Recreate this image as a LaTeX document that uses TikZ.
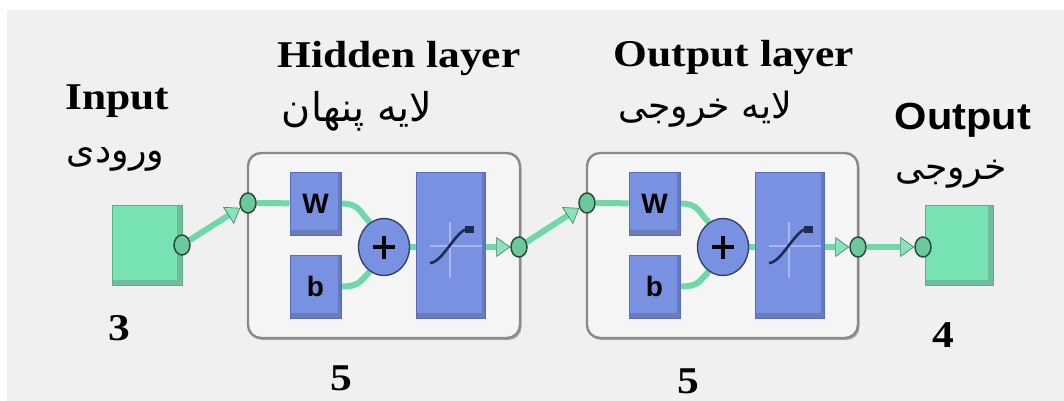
\documentclass[tikz,border=0pt]{standalone}
\usepackage{fontspec}
\usepackage{graphicx}
\usetikzlibrary{arrows.meta,shapes.geometric,shadows}
\TeXXeTstate=1
\newfontfamily\arabicfont[Script=Arabic]{DejaVu Sans}
\newfontfamily\serifb{Liberation Serif}
\newfontfamily\sansb{Liberation Sans}
\definecolor{bgc}{HTML}{F0F0F0}
\definecolor{layerfill}{HTML}{F5F5F5}
\definecolor{layerdraw}{HTML}{8A8A8A}
\definecolor{bluefill}{HTML}{7891E0}
\definecolor{bluedark}{HTML}{5A6DB6}
\definecolor{greenfill}{HTML}{78E3B2}
\definecolor{greendark}{HTML}{58B287}
\definecolor{conn}{HTML}{6FD8A6}
\definecolor{tipline}{HTML}{3E7D5E}
\definecolor{tipfill}{HTML}{8AE3B8}
\definecolor{dotfill}{HTML}{6CC99B}
\definecolor{dotdraw}{HTML}{2C4A3A}
\definecolor{sigline}{HTML}{1E2B55}
\definecolor{gridline}{HTML}{A8B8EE}
\pgfdeclarelayer{bglayer}
\pgfdeclarelayer{wirelayer}
\pgfsetlayers{bglayer,wirelayer,main}
\tikzset{
  lbl/.style={font=\fontsize{37.8}{40}\selectfont, inner sep=0pt, anchor=base},
  fa/.style={inner sep=0pt, anchor=center, font=\fontsize{30}{34}\selectfont},
  layerbox/.style={draw=layerdraw, line width=2.4pt, fill=layerfill, rounded corners=13pt,
    inner sep=0pt, drop shadow={shadow xshift=1.5pt, shadow yshift=-2pt, fill=black!40, opacity=0.8}},
  bluebox/.style={draw=bluedark, line width=1pt, fill=bluefill, inner sep=0pt,
    font=\sansb\bfseries\fontsize{28}{28}\selectfont,
    path picture={\fill[bluedark!90] (path picture bounding box.south west) rectangle ([yshift=5pt]path picture bounding box.south east);
                  \fill[bluedark!70!bluefill] ([xshift=-3pt,yshift=5pt]path picture bounding box.south east) rectangle (path picture bounding box.north east);}},
  sumnode/.style={ellipse, draw=bluedark!60!black, line width=1.4pt, fill=bluefill, inner sep=0pt,
    minimum width=51pt, minimum height=57pt},
  greenbox/.style={draw=greendark, line width=1pt, fill=greenfill, minimum width=70pt, minimum height=80pt, inner sep=0pt,
    path picture={\fill[greendark!85] (path picture bounding box.south west) rectangle ([yshift=5pt]path picture bounding box.south east);
                  \fill[greendark!85] ([xshift=-5pt]path picture bounding box.south east) rectangle (path picture bounding box.north east);}},
  dot/.style={ellipse, draw=dotdraw, line width=1.5pt, fill=dotfill, minimum width=16pt, minimum height=20pt, inner sep=0pt},
  wire/.style={draw=conn, line width=6pt},
  arr/.style={-{Triangle[length=14pt,width=20pt,fill=tipfill,color=tipline,line width=0.6pt]}}
}
\begin{document}
\begin{tikzpicture}[x=1pt,y=-1pt]
\useasboundingbox (0,0) rectangle (1064,401);
\begin{pgfonlayer}{bglayer}
  \fill[white] (0,0) rectangle (1064,401);
  \fill[bgc] (7,10) rectangle (1064,401);
  \node[layerbox, minimum width=272pt, minimum height=185pt] (LH) at (384,245.5) {};
  \node[layerbox, minimum width=271pt, minimum height=185pt] (LO) at (722.5,245.5) {};
\end{pgfonlayer}

% input / output blocks
\node[greenbox] (inbox) at (147,245) {};
\node[greenbox, minimum width=68pt] (outbox) at (959,245) {};
\node[dot] (indot) at (182,245) {};
\node[dot] (findot) at (923,247) {};

\foreach \dx/\n in {0/h,339/o}{
  \node[bluebox, minimum width=51pt, minimum height=63pt] (W\n) at (315.5+\dx,203.5) {W};
  \node[bluebox, minimum width=51pt, minimum height=63pt] (b\n) at (315.5+\dx,286.5) {b};
  \node[sumnode] (sum\n) at (384+\dx,247) {};
  \node[bluebox, minimum width=69pt, minimum height=146pt] (tf\n) at (450.5+\dx,245) {};
  \node[dot] (entry\n) at (248+\dx,203) {};
  \node[dot] (out\n) at (519+\dx,247) {};
  % plus sign
  \draw[line width=3.8pt, black] ([xshift=-11pt]sum\n.center) -- ([xshift=11pt]sum\n.center);
  \draw[line width=3.8pt, black] ([yshift=-11.5pt]sum\n.center) -- ([yshift=11.5pt]sum\n.center);
  % transfer function glyph
  \begin{scope}[shift={(tf\n.center)}]
    \draw[gridline, line width=1.5pt] (-20.5,1) -- (31.5,1);
    \draw[gridline, line width=1.5pt] (-0.5,-23) -- (-0.5,33);
    \draw[sigline, line width=2.6pt] (-20.5,18) .. controls (-8,18) and (6,-16) .. (17.5,-16);
    \fill[sigline] (14.5,-19.5) rectangle (23,-12.5);
  \end{scope}
  \begin{pgfonlayer}{wirelayer}
    \draw[wire] (entry\n) -- (W\n);
    \draw[wire] (W\n.east) .. controls +(18,0) and +(-10,-10) .. (sum\n.120);
    \draw[wire] (b\n.east) .. controls +(18,0) and +(-10,10) .. (sum\n.240);
    \draw[wire] (sum\n.east) -- (sum\n.east -| tf\n.west);
    \draw[wire, arr] (tf\n.east |- out\n) -- (out\n);
  \end{pgfonlayer}
}
\begin{pgfonlayer}{wirelayer}
  \draw[wire, arr] (indot) -- (entryh);
  \draw[wire, arr] (outh) -- (entryo);
  \draw[wire, arr] (outo) -- (findot);
\end{pgfonlayer}

% labels
\node[lbl] (tIn) at (117.5,110) {\scalebox{1.15}[1]{\serifb\bfseries Input}};
\node[lbl] (tHid) at (399,68) {\scalebox{1.15}[1]{\serifb\bfseries Hidden layer}};
\node[lbl] (tOL) at (734,67) {\scalebox{1.15}[1]{\serifb\bfseries Output layer}};
\node[lbl] (tOut) at (963,129) {\scalebox{1.1}[1]{\sansb\bfseries Output}};
\node[lbl] (n3) at (119,340) {\scalebox{1.15}[1]{\serifb\bfseries 3}};
\node[lbl] (n5a) at (341,390) {\scalebox{1.15}[1]{\serifb\bfseries 5}};
\node[lbl] (n5b) at (688,393) {\scalebox{1.15}[1]{\serifb\bfseries 5}};
\node[lbl] (n4) at (943,347) {\scalebox{1.15}[1]{\serifb\bfseries 4}};

\node[fa] (faIn) at (115.5,159) {\resizebox{97pt}{!}{\arabicfont\beginR ورودی\endR}};
\node[fa] (faHid) at (357,111) {\resizebox{150pt}{!}{\arabicfont\beginR لایه پنهان\endR}};
\node[fa] (faOL) at (705,109) {\resizebox{174pt}{!}{\arabicfont\beginR لایه خروجی\endR}};
\node[fa] (faOut) at (951,174) {\resizebox{112pt}{!}{\arabicfont\beginR خروجی\endR}};
\end{tikzpicture}
\end{document}
